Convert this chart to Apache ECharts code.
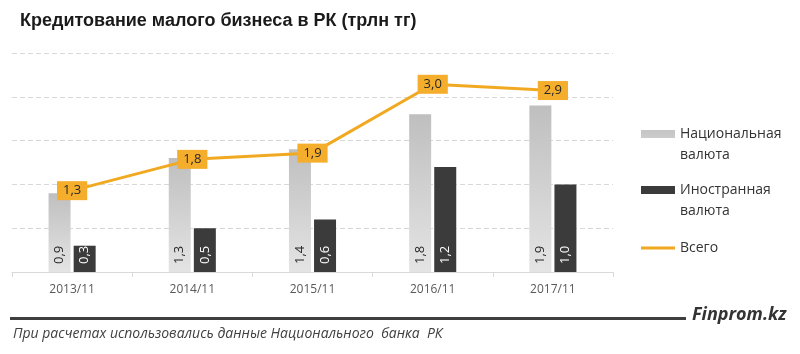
<!DOCTYPE html>
<html>
<head>
<meta charset="utf-8">
<script src="https://cdn.jsdelivr.net/npm/echarts@6/dist/echarts.min.js"></script>
<style>
  html, body { margin: 0; padding: 0; background: #fff; }
  #chart1 { width: 800px; height: 354px; }
</style>
</head>
<body>
<div id="chart1"></div>
<script>
var categories = ['2013/11', '2014/11', '2015/11', '2016/11', '2017/11'];
var nationalCur = [0.9, 1.3, 1.4, 1.8, 1.9];
var foreignCur = [0.3, 0.5, 0.6, 1.2, 1.0];
var total = [1.3, 1.8, 1.9, 3.0, 2.9];

var dom = document.getElementById('chart1');
var myChart = echarts.init(dom, null, { renderer: 'canvas' });

function fmt(p) {
  return p.value.toFixed(1).replace('.', ',');
}

// swatch sits on the first line of a two-line legend entry
var swatch = 'path://M0,0H0.1V0.1H0ZM0,7H34V15H0ZM0,43.9H0.1V44H0Z';

var option = {
  animation: false,
  textStyle: { fontFamily: 'Open Sans' },
  title: {
    text: 'Кредитование малого бизнеса в РК (трлн тг)',
    left: 20,
    top: 12,
    padding: 0,
    textStyle: { fontFamily: 'Liberation Sans', fontWeight: 'bold', fontSize: 18, color: '#1a1a1a' }
  },
  legend: [
    {
      orient: 'vertical',
      left: 636,
      top: 118,
      itemWidth: 34,
      itemHeight: 44,
      itemGap: 12,
      icon: swatch,
      data: ['Национальная\nвалюта', 'Иностранная\nвалюта'],
      textStyle: { fontSize: 14, color: '#333', lineHeight: 21 }
    },
    {
      orient: 'vertical',
      left: 636,
      top: 236,
      itemWidth: 34,
      itemHeight: 3,
      icon: 'rect',
      data: ['Всего'],
      textStyle: { fontSize: 14, color: '#333' }
    }
  ],
  grid: { left: 12, right: 187, top: 53, bottom: 82 },
  xAxis: {
    type: 'category',
    data: categories,
    axisLine: { lineStyle: { color: '#d9d9d9' } },
    axisTick: { show: true, length: 5, lineStyle: { color: '#d9d9d9' } },
    axisLabel: { color: '#595959', fontSize: 12, margin: 12 }
  },
  yAxis: [
    {
      type: 'value',
      min: 0,
      max: 2.5,
      interval: 0.5,
      axisLabel: { show: false },
      axisLine: { show: false },
      axisTick: { show: false },
      splitLine: { lineStyle: { color: '#d9d9d9', type: [5, 3] } }
    },
    {
      type: 'value',
      min: 0,
      max: 3.5,
      show: false,
      splitLine: { show: false }
    }
  ],
  graphic: [
    { type: 'rect', left: 10, top: 317, shape: { width: 676, height: 3 }, style: { fill: '#3f3f3f' } },
    { type: 'text', left: 692, top: 306, style: { text: 'Finprom.kz', fill: '#333', font: 'italic bold 18px "Open Sans"' } },
    { type: 'text', left: 13, top: 327, style: { text: 'При расчетах использовались данные Национального  банка  РК', fill: '#404040', font: 'italic 14px "Open Sans"' } }
  ],
  series: [
    {
      name: 'Национальная\nвалюта',
      type: 'bar',
      data: nationalCur,
      barWidth: 22,
      barGap: '14%',
      itemStyle: {
        color: new echarts.graphic.LinearGradient(0, 0, 0, 1, [
          { offset: 0, color: '#bfbfbf' },
          { offset: 1, color: '#e4e4e4' }
        ])
      },
      label: {
        show: true, position: 'insideBottom', rotate: 90, align: 'left', verticalAlign: 'middle',
        distance: 8, color: '#262626', fontSize: 13, formatter: fmt
      }
    },
    {
      name: 'Иностранная\nвалюта',
      type: 'bar',
      data: foreignCur,
      barWidth: 22,
      itemStyle: { color: '#3b3b3b' },
      label: {
        show: true, position: 'insideBottom', rotate: 90, align: 'left', verticalAlign: 'middle',
        distance: 8, color: '#ffffff', fontSize: 13, formatter: fmt
      }
    },
    {
      name: 'Всего',
      type: 'line',
      yAxisIndex: 1,
      data: total,
      symbol: 'circle',
      symbolSize: 1,
      itemStyle: { color: '#f2a922' },
      lineStyle: { color: '#f2a922', width: 3 },
      label: {
        show: true, position: 'inside', backgroundColor: '#f4ae2c', padding: [3, 6],
        color: '#262626', fontSize: 13, formatter: fmt
      },
      z: 5
    }
  ]
};

myChart.setOption(option);
window.addEventListener('resize', myChart.resize);
</script>
</body>
</html>
